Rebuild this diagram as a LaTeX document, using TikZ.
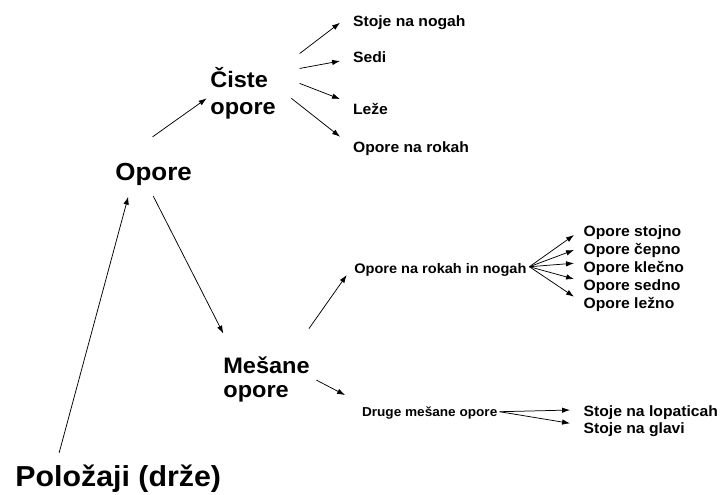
\documentclass[tikz,border=0pt]{standalone}
\usepackage{fontspec}
\setmainfont{Liberation Sans}[FakeStretch=1.05]
\usetikzlibrary{arrows.meta}

\begin{document}
\begin{tikzpicture}[>={Latex[length=8pt,width=5.5pt]},line width=0.75pt,
  every node/.style={inner sep=0pt,anchor=base west},
  huge/.style={font=\bfseries\fontsize{29}{34}\selectfont},
  big/.style={font=\bfseries\fontsize{24.8}{30}\selectfont},
  mid/.style={font=\bfseries\fontsize{22.5}{26.7}\selectfont,align=left},
  small/.style={font=\bfseries\fontsize{15}{18}\selectfont},
  tiny/.style={font=\bfseries\fontsize{13.9}{17}\selectfont}]
  \useasboundingbox (0bp,0bp) rectangle (720bp,-495bp);
  \node (Polozaji) at (15bp,-486.7bp) [huge] {Položaji (drže)};
  \node (Opore) at (115bp,-180.7bp) [big] {Opore};
  \node (Ciste) at (210bp,-114bp) [mid] {Čiste\\opore};
  \node (Mesane) at (223bp,-397bp) [mid] {Mešane\\[-2.7pt]opore};
  \node (StojeNogah) at (352.7bp,-26bp) [small] {Stoje na nogah};
  \node (Sedi) at (352.7bp,-62.7bp) [small] {Sedi};
  \node (Leze) at (352.7bp,-114bp) [small] {Leže};
  \node (NaRokah) at (352.7bp,-152.7bp) [small] {Opore na rokah};
  \node (RokahNogah) at (354bp,-273bp) [tiny] {Opore na rokah in nogah};
  \node (Stojno) at (583.3bp,-236.7bp) [small] {Opore stojno};
  \node (Cepno) at (583.3bp,-254.3bp) [small] {Opore čepno};
  \node (Klecno) at (583.3bp,-272.7bp) [small] {Opore klečno};
  \node (Sedno) at (583.3bp,-290bp) [small] {Opore sedno};
  \node (Lezno) at (583.3bp,-308.3bp) [small] {Opore ležno};
  \node (Druge) at (361.7bp,-416.7bp) [tiny,font=\bfseries\fontsize{13}{16}\selectfont] {Druge mešane opore};
  \node (Lopaticah) at (583.3bp,-416.7bp) [small] {Stoje na lopaticah};
  \node (Glavi) at (583.3bp,-433.3bp) [small] {Stoje na glavi};
  \draw [->] ([xshift=44.3pt,yshift=34pt]Polozaji.base west) -- ([xshift=13.3pt,yshift=-16pt]Opore.base west);
  \draw [->] ([xshift=37.7pt,yshift=44pt]Opore.base west) -- ([xshift=-3.3pt,yshift=15.7pt]Ciste.base west);
  \draw [->] ([xshift=38.3pt,yshift=-15.3pt]Opore.base west) -- ([xshift=0.3pt,yshift=63.7pt]Mesane.base west);
  \draw [->] ([xshift=90pt,yshift=60.7pt]Ciste.base west) -- ([xshift=-12.7pt,yshift=3.3pt]StojeNogah.base west);
  \draw [->] ([xshift=90pt,yshift=45.7pt]Ciste.base west) -- ([xshift=-12.7pt,yshift=1.7pt]Sedi.base west);
  \draw [->] ([xshift=90pt,yshift=30.7pt]Ciste.base west) -- ([xshift=-12.7pt,yshift=15pt]Leze.base west);
  \draw [->] ([xshift=81.7pt,yshift=15.7pt]Ciste.base west) -- ([xshift=-12.7pt,yshift=16pt]NaRokah.base west);
  \draw [->] ([xshift=86.3pt,yshift=68.7pt]Mesane.base west) -- ([xshift=-7.3pt,yshift=-2pt]RokahNogah.base west);
  \draw [->] ([xshift=93.7pt,yshift=17pt]Mesane.base west) -- ([xshift=-16.7pt,yshift=21.7pt]Druge.base west);
  % fan to the five kinds
  \draw [->] ([xshift=2.6pt,yshift=6.3pt]RokahNogah.base east) -- ([xshift=-9.3pt,yshift=1.7pt]Stojno.base west);
  \draw [->] ([xshift=2.6pt,yshift=6.3pt]RokahNogah.base east) -- ([xshift=-9.3pt,yshift=4.3pt]Cepno.base west);
  \draw [->] ([xshift=2.6pt,yshift=6.3pt]RokahNogah.base east) -- ([xshift=-9.3pt,yshift=9.5pt]Klecno.base west);
  \draw [->] ([xshift=2.6pt,yshift=6.3pt]RokahNogah.base east) -- ([xshift=-9.3pt,yshift=11pt]Sedno.base west);
  \draw [->] ([xshift=2.6pt,yshift=6.3pt]RokahNogah.base east) -- ([xshift=-9.3pt,yshift=11.6pt]Lezno.base west);
  \draw [->] ([xshift=2pt,yshift=5pt]Druge.base east) -- ([xshift=-13.3pt,yshift=6.7pt]Lopaticah.base west);
  \draw [->] ([xshift=2pt,yshift=5pt]Druge.base east) -- ([xshift=-13.3pt,yshift=10pt]Glavi.base west);
\end{tikzpicture}
\end{document}
